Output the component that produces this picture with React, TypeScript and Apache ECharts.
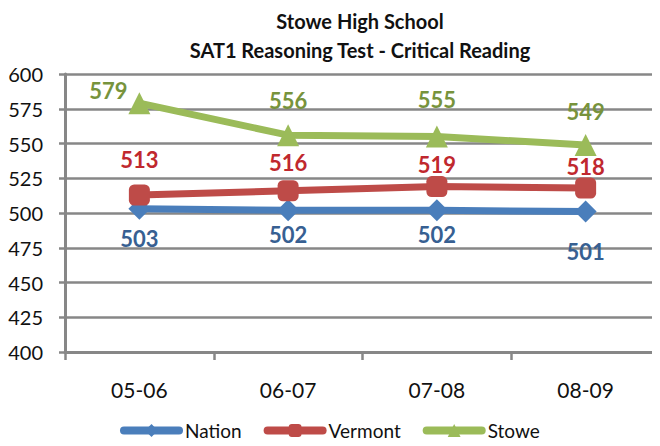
import React, { useEffect, useRef } from "react";
import * as echarts from "echarts";

const categories = ["05-06", "06-07", "07-08", "08-09"];
const nation = [503, 502, 502, 501];
const vermont = [513, 516, 519, 518];
const stowe = [579, 556, 555, 549];
const yTicks = { min: 400, max: 600, interval: 25 };

// label placement relative to each point (style, not data)
const nationLabelOffsets = [[0, 30], [0, 24], [0, 24], [0, 40]];
const vermontLabelOffsets = [[0, -35], [0, -28], [0, -22], [0, -21]];
const stoweLabelOffsets = [[-31, -13], [0, -35], [0, -37], [0, -33]];

const FONT = "Lato, 'Open Sans', sans-serif";

function withOffsets(values: number[], offsets: number[][]) {
  return values.map((v, i) => ({ value: v, label: { offset: offsets[i] } }));
}

export default function App() {
  const ref = useRef<HTMLDivElement>(null);
  useEffect(() => {
    if (!ref.current) return;
    const chart = echarts.init(ref.current, null, { renderer: "svg" });
    const labelBase = {
      show: true,
      position: "inside",
      fontSize: 22,
      fontWeight: 700,
      fontFamily: FONT,
    };
    chart.setOption({
      animation: false,
      backgroundColor: "#ffffff",
      title: {
        text: "Stowe High School\nSAT1 Reasoning Test - Critical Reading",
        left: 355,
        textAlign: "center",
        top: 1,
        textStyle: { fontFamily: FONT, fontSize: 20, fontWeight: 700, color: "#111", lineHeight: 29 },
      },
      legend: {
        bottom: 1,
        left: 115,
        itemWidth: 55,
        itemHeight: 16,
        itemGap: 22,
        textStyle: { fontFamily: FONT, fontSize: 19, color: "#111", padding: [0, 0, 0, 1] },
        lineStyle: { width: 8, cap: "round" },
        data: ["Nation", "Vermont", "Stowe"],
      },
      grid: { left: 65, right: 0, top: 74, bottom: 94 },
      xAxis: {
        type: "category",
        data: categories,
        boundaryGap: true,
        axisLine: { show: true, lineStyle: { color: "#878787", width: 3 } },
        axisTick: { show: true, length: 8, lineStyle: { color: "#878787", width: 2.5 } },
        axisLabel: { fontFamily: FONT, fontSize: 21, color: "#111", margin: 27 },
      },
      yAxis: {
        type: "value",
        min: yTicks.min,
        max: yTicks.max,
        interval: yTicks.interval,
        axisLine: { show: true, lineStyle: { color: "#878787", width: 3 } },
        axisTick: { show: true, length: 6, lineStyle: { color: "#878787", width: 2.5 } },
        splitLine: { show: true, lineStyle: { color: "#878787", width: 2.5 } },
        axisLabel: { fontFamily: FONT, fontSize: 20, color: "#111", margin: 22 },
      },
      series: [
        {
          name: "Nation",
          type: "line",
          data: withOffsets(nation, nationLabelOffsets),
          symbol: "diamond",
          symbolSize: 22,
          z: 3,
          lineStyle: { color: "#4A7EBB", width: 7 },
          itemStyle: { color: "#4A7EBB" },
          label: { ...labelBase, color: "#376092" },
        },
        {
          name: "Vermont",
          type: "line",
          data: withOffsets(vermont, vermontLabelOffsets),
          symbol: "roundRect",
          symbolSize: 21,
          z: 4,
          lineStyle: { color: "#BE4B48", width: 7 },
          itemStyle: { color: "#BE4B48" },
          label: { ...labelBase, color: "#C0282E" },
        },
        {
          name: "Stowe",
          type: "line",
          data: withOffsets(stowe, stoweLabelOffsets),
          symbol: "triangle",
          symbolSize: 22,
          z: 5,
          lineStyle: { color: "#9BBB59", width: 7 },
          itemStyle: { color: "#9BBB59" },
          label: { ...labelBase, color: "#77933C" },
        },
      ],
    });
    return () => chart.dispose();
  }, []);
  return <div ref={ref} style={{ width: 660, height: 446, margin: -8 }} />;
}
